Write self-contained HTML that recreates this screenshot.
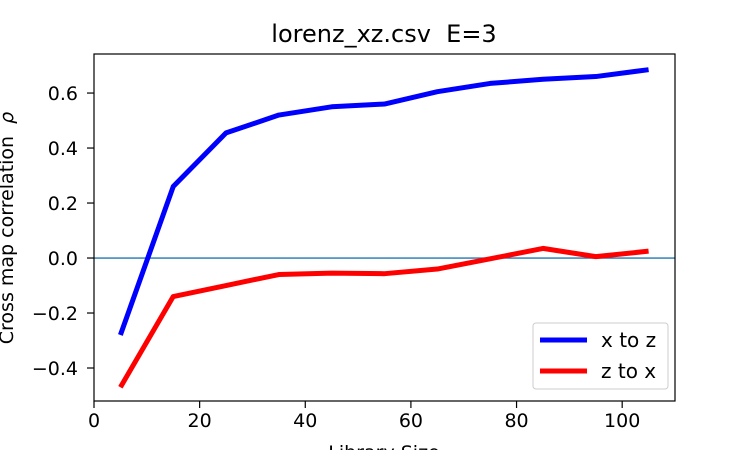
<!DOCTYPE html>
<html><head><meta charset="utf-8"><style>
body{margin:0;background:#fff;}
svg{display:block;font-family:"DejaVu Sans","Liberation Sans",sans-serif;}
</style></head><body>
<svg id="chart" width="750" height="450"></svg>
<script>
const xValues=[5,15,25,35,45,55,65,75,85,95,105];
const xToZ=[-0.28,0.26,0.455,0.52,0.55,0.56,0.605,0.635,0.65,0.66,0.685];
const zToX=[-0.47,-0.14,-0.10,-0.06,-0.055,-0.057,-0.04,-0.003,0.035,0.005,0.025];
const xTicks=[0,20,40,60,80,100];
const yTicks=[-0.4,-0.2,0.0,0.2,0.4,0.6];
const yTickLabels=["\u22120.4","\u22120.2","0.0","0.2","0.4","0.6"];
const L=94,R=675,T=54,B=401,xmin=0,xmax=110,ymin=-0.52,ymax=0.742;
const sx=v=>L+(v-xmin)/(xmax-xmin)*(R-L);
const sy=v=>B-(v-ymin)/(ymax-ymin)*(B-T);
const svg=document.getElementById('chart');
const NS='http://www.w3.org/2000/svg';
function mk(tag,attrs,parent){const e=document.createElementNS(NS,tag);for(const k in attrs)e.setAttribute(k,attrs[k]);(parent||svg).appendChild(e);return e;}
let z=mk('line',{x1:L,x2:R,y1:sy(0),y2:sy(0),stroke:'#1f77b4','stroke-width':1.4});


function series(vals,color,name){
  const d=vals.map((v,i)=>(i?'L':'M')+sx(xValues[i])+' '+sy(v)).join(' ');
  const p=mk('path',{d:d,fill:'none',stroke:color,'stroke-width':5,'stroke-linejoin':'round'});
  
  
}
series(xToZ,'#0000ff','series-x-to-z');
series(zToX,'#ff0000','series-z-to-x');
let frame=mk('rect',{x:L,y:T,width:R-L,height:B-T,fill:'none',stroke:'#000','stroke-width':1.2});


xTicks.forEach(t=>{
  mk('line',{x1:sx(t),x2:sx(t),y1:B,y2:B+7,stroke:'#000','stroke-width':1.2});
  const tx=mk('text',{x:sx(t),y:B+26,'font-size':19,'text-anchor':'middle'});
  tx.textContent=t;
  
  
});
yTicks.forEach((t,i)=>{
  mk('line',{x1:L-7,x2:L,y1:sy(t),y2:sy(t),stroke:'#000','stroke-width':1.2});
  const tx=mk('text',{x:L-16,y:sy(t)+7,'font-size':19,'text-anchor':'end'});
  tx.textContent=yTickLabels[i];
  
  
});
</script>
<svg width="750" height="450" style="position:absolute;left:0;top:0" font-family="DejaVu Sans, Liberation Sans, sans-serif">
<text x="384" y="42" font-size="24" text-anchor="middle" xml:space="preserve">lorenz_xz.csv  E=3</text>
<text x="384" y="459" font-size="19" text-anchor="middle">Library Size</text>
<text transform="translate(13,228) rotate(-90)" font-size="19" text-anchor="middle" xml:space="preserve">Cross map correlation  <tspan font-style="italic">ρ</tspan></text>
<g>
<rect x="533" y="323" width="135" height="66" rx="3" fill="#fff" fill-opacity="0.8" stroke="#ccc"/>
<line x1="540" x2="587" y1="340" y2="340" stroke="#0000ff" stroke-width="5"/>
<text x="601" y="347" font-size="20">x to z</text>
<line x1="540" x2="587" y1="371" y2="371" stroke="#ff0000" stroke-width="5"/>
<text x="601" y="378" font-size="20">z to x</text>
</g>
</svg>
</body></html>
